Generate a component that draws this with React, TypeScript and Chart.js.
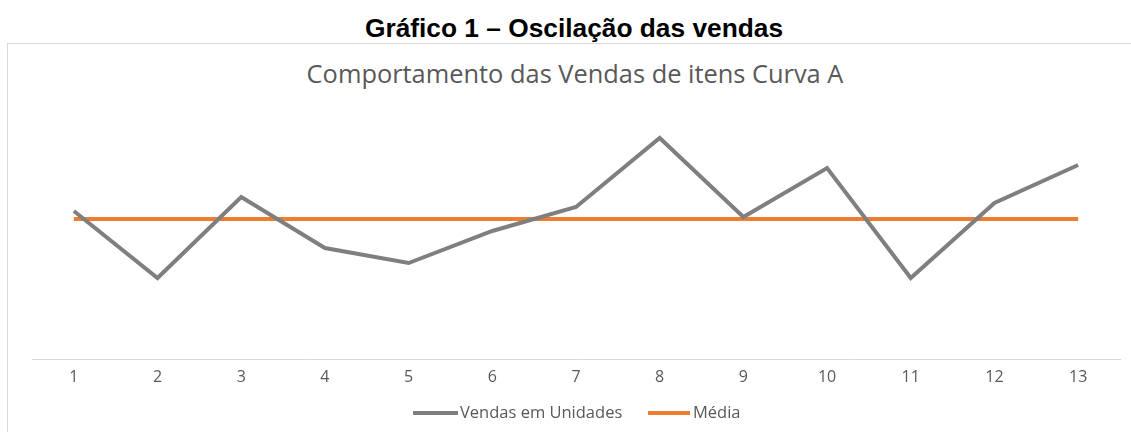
import React, { useEffect, useRef } from "react";
import { Chart, registerables } from "chart.js";

Chart.register(...registerables);

const categories = ["1", "2", "3", "4", "5", "6", "7", "8", "9", "10", "11", "12", "13"];
const vendas = [74, 40.5, 81, 55.5, 48, 64, 76, 110.5, 71, 95.5, 40.5, 78, 97];
const media = [70, 70, 70, 70, 70, 70, 70, 70, 70, 70, 70, 70, 70];
const seriesNames = ["Vendas em Unidades", "Média"];
const seriesColors = ["#7f7f7f", "#ED7D31"];

const outerTitle = "Gráfico 1 – Oscilação das vendas";
const innerTitle = "Comportamento das Vendas de itens Curva A";

export default function App() {
  const canvasRef = useRef<HTMLCanvasElement | null>(null);

  useEffect(() => {
    if (!canvasRef.current) return;
    const chart = new Chart(canvasRef.current, {
      type: "line",
      data: {
        labels: categories,
        datasets: [
          {
            label: seriesNames[0],
            data: vendas,
            borderColor: seriesColors[0],
            backgroundColor: seriesColors[0],
            borderWidth: 4,
            pointRadius: 0,
            tension: 0,
            borderJoinStyle: "miter",
          },
          {
            label: seriesNames[1],
            data: media,
            borderColor: seriesColors[1],
            backgroundColor: seriesColors[1],
            borderWidth: 4,
            pointRadius: 0,
            tension: 0,
          },
        ],
      },
      options: {
        responsive: false,
        animation: false,
        devicePixelRatio: 1,
        layout: { padding: { top: 89, left: 32, right: 11, bottom: 33 } },
        plugins: {
          legend: { display: false },
          title: { display: false },
          tooltip: { enabled: false },
        },
        scales: {
          x: {
            type: "category",
            offset: true,
            grid: { display: false, drawTicks: false },
            border: { display: true, color: "#d9d9d9", width: 1 },
            ticks: {
              color: "#595959",
              font: { family: "'Open Sans'", size: 16 },
              padding: 9,
              maxRotation: 0,
            },
            afterFit: (scale: any) => {
              scale.height = 40;
            },
          },
          y: {
            display: false,
            min: 0,
            max: 135,
          },
        },
      },
    });
    return () => chart.destroy();
  }, []);

  return (
    <div
      style={{
        position: "absolute",
        left: 0,
        top: 0,
        width: 1131,
        height: 432,
        overflow: "hidden",
        background: "#ffffff",
      }}
    >
      <div
        style={{
          position: "absolute",
          left: 7,
          top: 43,
          width: 1200,
          height: 500,
          border: "1px solid #d9d9d9",
        }}
      />
      <div
        style={{
          position: "absolute",
          left: 0,
          top: 15,
          width: 1148,
          textAlign: "center",
          fontFamily: "'Liberation Sans', Arial, sans-serif",
          fontWeight: "bold",
          fontSize: 26.3,
          lineHeight: "26px",
          color: "#000",
          whiteSpace: "nowrap",
        }}
      >
        {outerTitle}
      </div>
      <div
        style={{
          position: "absolute",
          left: 0,
          top: 61,
          width: 1150,
          textAlign: "center",
          fontFamily: "'Open Sans', sans-serif",
          fontSize: 25.4,
          lineHeight: "25px",
          color: "#595959",
          whiteSpace: "nowrap",
        }}
      >
        {innerTitle}
      </div>
      <canvas
        ref={canvasRef}
        width={1131}
        height={432}
        style={{ position: "absolute", left: 0, top: 0, width: 1131, height: 432 }}
      />
      <div style={{ position: "absolute", left: 413, top: 411, width: 45, height: 4, background: seriesColors[0] }} />
      <div
        style={{
          position: "absolute",
          left: 460,
          top: 402,
          fontFamily: "'Open Sans', sans-serif",
          fontSize: 16.5,
          lineHeight: "20px",
          color: "#595959",
          whiteSpace: "nowrap",
        }}
      >
        {seriesNames[0]}
      </div>
      <div style={{ position: "absolute", left: 648, top: 411, width: 42, height: 4, background: seriesColors[1] }} />
      <div
        style={{
          position: "absolute",
          left: 693,
          top: 402,
          fontFamily: "'Open Sans', sans-serif",
          fontSize: 16.5,
          lineHeight: "20px",
          color: "#595959",
          whiteSpace: "nowrap",
        }}
      >
        {seriesNames[1]}
      </div>
    </div>
  );
}
